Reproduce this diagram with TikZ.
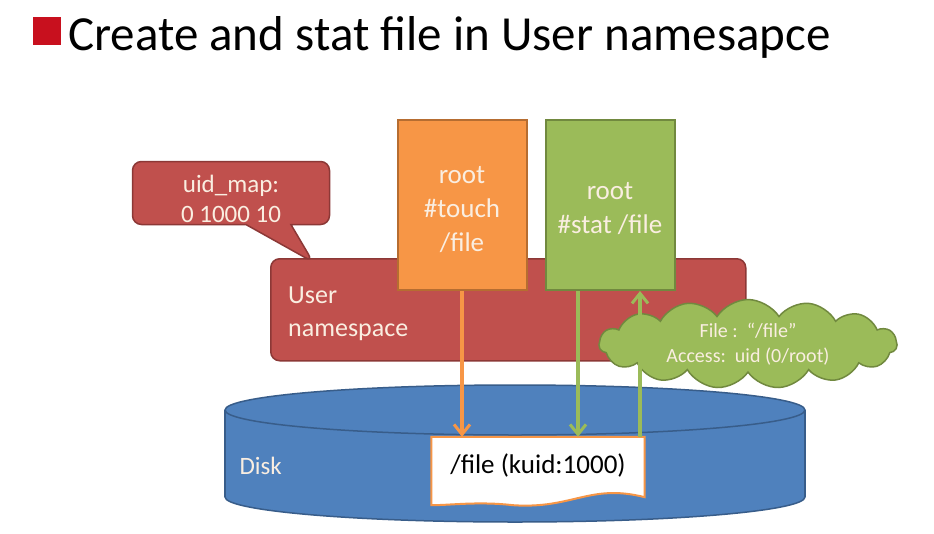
\documentclass[tikz,border=0pt]{standalone}
\usepackage{fontspec}
\setmainfont{Carlito}
\usetikzlibrary{shapes.callouts,shapes.symbols,arrows.meta,calc}
\definecolor{nsred}{RGB}{192,80,77}
\definecolor{nsredd}{RGB}{140,56,54}
\definecolor{orfill}{RGB}{247,150,70}
\definecolor{ordraw}{RGB}{182,109,49}
\definecolor{grfill}{RGB}{155,187,89}
\definecolor{grdraw}{RGB}{113,137,63}
\definecolor{blfill}{RGB}{79,129,189}
\definecolor{bldraw}{RGB}{56,93,138}
\definecolor{titlered}{RGB}{200,16,30}
\definecolor{lighttext}{RGB}{250,238,225}
\tikzset{
  redbox/.style={fill=nsred, draw=nsredd, line width=1.5pt, rounded corners=9pt},
  cmdbox/.style={line width=2pt, minimum width=129pt, minimum height=170pt},
  cmdtext/.style={text=lighttext, align=center, font=\fontsize{27}{34}\selectfont},
  boxtext/.style={text=lighttext, font=\fontsize{26}{33}\selectfont},
  arr/.style={line width=3.5pt, -{Straight Barb[length=10pt,width=16pt,line width=3pt]}},
}
\begin{document}
\begin{tikzpicture}[x=1pt,y=-1pt]
\useasboundingbox (0,0) rectangle (934,533);
\fill[white] (0,0) rectangle (934,533);
% title
\node[fill=titlered, minimum size=28pt, inner sep=0] (sq) at (47,31) {};
\node[anchor=base west, inner sep=0, font=\fontsize{49}{52}\selectfont] (title) at (68,50) {Create and stat file in User namesapce};
% disk
\filldraw[fill=blfill, draw=bldraw, line width=1.5pt] (515,497) ellipse [x radius=290, y radius=25];
\fill[blfill] (225,410) rectangle (805,497);
\draw[bldraw, line width=1.5pt] (225,410) -- (225,497) (805,410) -- (805,497);
\filldraw[fill=blfill, draw=bldraw, line width=1.5pt] (515,410) ellipse [x radius=290, y radius=25];
\node[anchor=west, text=lighttext, font=\fontsize{25}{30}\selectfont] (disklbl) at (236,466) {Disk};
% user namespace
\node[redbox, minimum width=475pt, minimum height=102pt, anchor=north west] (ns) at (270,258) {};
\node[anchor=north west, align=left, boxtext, inner sep=0] (nslbl) at (288,287) {User\\namespace};
% callout
\node[rectangle callout, fill=nsred, draw=nsredd, line width=1.5pt, rounded corners=9pt,
      minimum width=197pt, minimum height=63pt,
      callout absolute pointer={(313,262)}, callout pointer width=45pt] (map) at (231,193) {};
\node[align=center, boxtext, font=\fontsize{25}{30}\selectfont] (maptxt) at (231,199) {uid\_map:\\0 1000 10};
% command boxes
\node[cmdbox, fill=orfill, draw=ordraw] (touch) at (462,205) {};
\node[cmdtext] (touchtxt) at (462,210) {root\\\#touch\\/file};
\node[cmdbox, fill=grfill, draw=grdraw] (stat) at (610,205) {};
\node[cmdtext] (stattxt) at (610,209) {root\\\#stat /file};
% file on disk
\node[minimum width=213pt, minimum height=60pt] (file) at (538,467) {};
\path[fill=white, draw=orfill, line width=2pt]
  (file.north west) -- (file.north east) -- (file.south east)
  .. controls ($(file.south east)+(-55,-14)$) and ($(file.south)+(35,12)$) .. ($(file.south)+(-25,8)$)
  .. controls ($(file.south)+(-60,4)$) and ($(file.south west)+(20,8)$) .. ($(file.south west)+(0,8)$)
  -- cycle;
\node[font=\fontsize{27}{32}\selectfont, anchor=center] (filetxt) at ($(file.center)+(0,-2)$) {/file (kuid:1000)};
% cloud
\node[cloud, cloud puffs=15, cloud puff arc=115, aspect=3.6, fill=grfill, draw=grdraw, line width=1.5pt,
      minimum width=298pt, minimum height=84pt, align=center, text=lighttext,
      font=\fontsize{20}{25}\selectfont, inner sep=0pt] (cloud) at (748,344) {File :\ \ “/file”\\Access:\ \ uid (0/root)};
% arrows
\coordinate (sdown) at ($(stat.south)+(-32,0)$);
\coordinate (sup) at ($(stat.south)+(30,0)$);
\draw[arr, orfill] (touch.south) -- (touch.south |- file.north);
\draw[arr, grfill] (sdown) -- (sdown |- file.north);
\draw[arr, grfill] (sup |- file.north) -- (sup);
\end{tikzpicture}
\end{document}
